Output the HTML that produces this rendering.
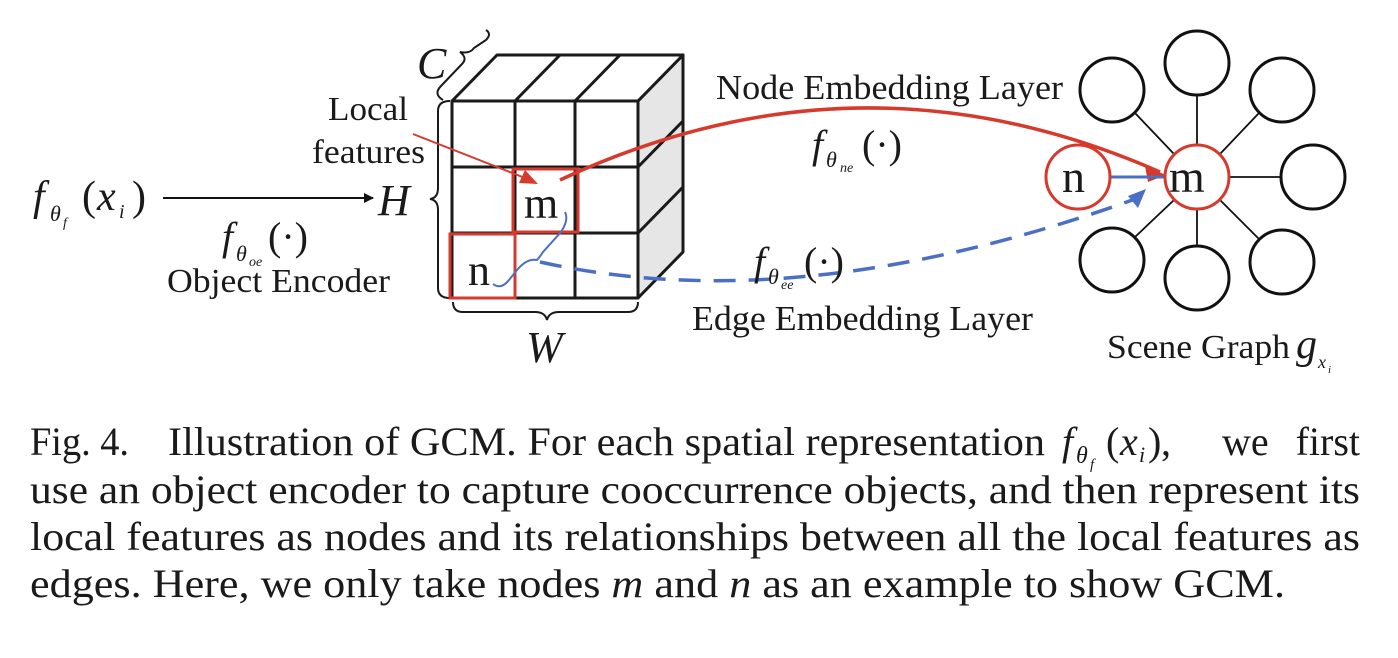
<!DOCTYPE html>
<html><head><meta charset="utf-8"><style>
html,body{margin:0;padding:0;background:#fff;}
svg{display:block;}
text{font-family:"Liberation Serif",serif;fill:#1a1a1a;}
</style></head><body>
<svg width="1398" height="658" viewBox="0 0 1398 658" xmlns="http://www.w3.org/2000/svg">
<defs>
<marker id="ab" markerWidth="10" markerHeight="10" refX="9" refY="5" orient="auto" markerUnits="userSpaceOnUse"><path d="M0,0 L10,5 L0,10 z" fill="#111"/></marker>
</defs>
<g stroke="#1a1a1a" stroke-width="3" fill="none" stroke-linejoin="round">
<path d="M638,101 L683,55 L683,252 L638,298 Z" fill="#e6e6e6"/>
<path d="M452,101 L497,55 L683,55 L638,101 Z" fill="#fff"/>
<rect x="452" y="101" width="186" height="197" fill="#fff"/>
<line x1="515" y1="101" x2="515" y2="298"/>
<line x1="575" y1="101" x2="575" y2="298"/>
<line x1="452" y1="167" x2="638" y2="167"/>
<line x1="452" y1="233" x2="638" y2="233"/>
<line x1="515" y1="101" x2="560" y2="55"/>
<line x1="575" y1="101" x2="620" y2="55"/>
<line x1="638" y1="167" x2="683" y2="121"/>
<line x1="638" y1="233" x2="683" y2="187"/>
</g>
<g stroke="#1a1a1a" stroke-width="2" fill="none">
<path d="M450,101 q-12,0 -12,10 L438,188 q0,10 -8,11 q8,1 8,11 L438,288 q0,10 12,10"/>
<path d="M453,302 q0,10 10,10 L535,312 q10,0 12,8 q2,-8 12,-8 L628,312 q10,0 10,-10"/>
<path d="M443,100 q-10,-6 -2,-14 L462,64 q6,-6 -2,-12 q10,2 14,-4 L486,40 q6,-6 0,-10"/>
</g>
<rect x="513" y="169" width="65" height="63" fill="none" stroke="#d63a2c" stroke-width="3"/>
<rect x="450" y="234" width="65" height="64" fill="none" stroke="#d63a2c" stroke-width="3"/>
<text x="524" y="218" font-size="44">m</text>
<text x="468" y="285" font-size="44">n</text>
<path d="M565,212 q4,8 -4,20 l-18,20 q-4,6 -6,8 q-10,-2 -20,10 l-8,10 q-8,10 -16,4" fill="none" stroke="#4a6fc4" stroke-width="2"/>
<path d="M540,262 Q800,320 1138,198" fill="none" stroke="#4a6fc4" stroke-width="3.5" stroke-dasharray="22,13"/>
<path d="M1146,189 L1128,196 L1138,208 Z" fill="#4a6fc4"/>
<path d="M560,180 Q860,40 1160,172" fill="none" stroke="#d63a2c" stroke-width="3.5"/>
<path d="M1166,175 L1145,166 L1148,182 Z" fill="#d63a2c"/>
<line x1="413" y1="134" x2="525" y2="178" stroke="#d63a2c" stroke-width="2"/>
<path d="M538,184 L519,183 L525,170 Z" fill="#d63a2c"/>
<line x1="163" y1="198" x2="373" y2="198" stroke="#111" stroke-width="2" marker-end="url(#ab)"/>
<g stroke="#111" stroke-width="1.8">
<line x1="1197" y1="145" x2="1197" y2="95"/>
<line x1="1174" y1="154" x2="1135" y2="113"/>
<line x1="1220" y1="154" x2="1259" y2="113"/>
<line x1="1229" y1="177" x2="1281" y2="177"/>
<line x1="1220" y1="200" x2="1259" y2="239"/>
<line x1="1197" y1="209" x2="1197" y2="246"/>
<line x1="1174" y1="200" x2="1135" y2="237"/>
</g>
<line x1="1110" y1="177" x2="1165" y2="177" stroke="#4a6fc4" stroke-width="3"/>
<g fill="none" stroke="#111" stroke-width="3">
<circle cx="1197" cy="63" r="32"/><circle cx="1112" cy="90" r="32"/><circle cx="1282" cy="90" r="32"/>
<circle cx="1313" cy="177" r="32"/><circle cx="1282" cy="262" r="32"/><circle cx="1197" cy="278" r="32"/><circle cx="1112" cy="260" r="32"/>
</g>
<circle cx="1197" cy="177" r="32" fill="#fff" stroke="#d63a2c" stroke-width="3"/>
<circle cx="1078" cy="177" r="32" fill="#fff" stroke="#d63a2c" stroke-width="3"/>
<text x="1169" y="192" font-size="46">m</text>
<text x="1062" y="192" font-size="46">n</text>
<text x="33" y="210" font-size="42" font-style="italic">f</text>
<text x="50" y="221" font-size="22" font-style="italic">θ</text><text x="63" y="227" font-size="14" font-style="italic">f</text>
<text x="82" y="210" font-size="42">(</text>
<text x="97" y="210" font-size="42" font-style="italic">x</text>
<text x="119" y="218" font-size="20" font-style="italic">i</text>
<text x="132" y="210" font-size="42">)</text>
<text x="378" y="215" font-size="44" font-style="italic">H</text>
<text x="417" y="78" font-size="44" font-style="italic">C</text>
<text x="526" y="362" font-size="44" font-style="italic">W</text>
<text x="222" y="250" font-size="40" font-style="italic">f</text>
<text x="236" y="261" font-size="22" font-style="italic">θ</text><text x="249" y="266" font-size="14" font-style="italic">oe</text>
<text x="268" y="250" font-size="40">(·)</text>
<text x="167" y="292" font-size="34" textLength="223" lengthAdjust="spacingAndGlyphs">Object Encoder</text>
<text x="328" y="120" font-size="34" textLength="80" lengthAdjust="spacingAndGlyphs">Local</text>
<text x="312" y="163" font-size="34" textLength="113" lengthAdjust="spacingAndGlyphs">features</text>
<text x="716" y="99" font-size="35" textLength="347" lengthAdjust="spacingAndGlyphs">Node Embedding Layer</text>
<text x="812" y="158" font-size="40" font-style="italic">f</text>
<text x="826" y="167" font-size="22" font-style="italic">θ</text><text x="840" y="172" font-size="14" font-style="italic">ne</text>
<text x="862" y="158" font-size="40">(·)</text>
<text x="754" y="275" font-size="40" font-style="italic">f</text>
<text x="768" y="284" font-size="22" font-style="italic">θ</text><text x="781" y="289" font-size="14" font-style="italic">ee</text>
<text x="804" y="275" font-size="40">(·)</text>
<text x="692" y="330" font-size="35" textLength="341" lengthAdjust="spacingAndGlyphs">Edge Embedding Layer</text>
<text x="1107" y="358" font-size="34" textLength="183" lengthAdjust="spacingAndGlyphs">Scene Graph</text>
<text x="1296" y="358" font-size="42" font-style="italic">g</text>
<text x="1318" y="368" font-size="18" font-style="italic">x</text><text x="1328" y="373" font-size="11" font-style="italic">i</text>
<text x="30" y="455" font-size="40" textLength="99" lengthAdjust="spacingAndGlyphs">Fig. 4.</text>
<text x="168" y="455" font-size="40" textLength="877" lengthAdjust="spacingAndGlyphs">Illustration of GCM. For each spatial representation</text>
<text x="1062" y="455" font-size="40" font-style="italic">f</text>
<text x="1076" y="463" font-size="24" font-style="italic">θ</text><text x="1090" y="469" font-size="15" font-style="italic">f</text>
<text x="1106" y="455" font-size="40">(</text>
<text x="1120" y="455" font-size="40" font-style="italic">x</text>
<text x="1139" y="462" font-size="22" font-style="italic">i</text>
<text x="1148" y="455" font-size="40">)</text>
<text x="1161" y="455" font-size="40">,</text>
<text x="1222" y="455" font-size="40">we</text>
<text x="1360" y="455" font-size="40" text-anchor="end">first</text>
<text x="30" y="503" font-size="40" textLength="1330" lengthAdjust="spacingAndGlyphs">use an object encoder to capture cooccurrence objects, and then represent its</text>
<text x="30" y="550" font-size="40" textLength="1330" lengthAdjust="spacingAndGlyphs">local features as nodes and its relationships between all the local features as</text>
<text x="30" y="597" font-size="40" textLength="1255" lengthAdjust="spacingAndGlyphs">edges. Here, we only take nodes <tspan font-style="italic">m</tspan> and <tspan font-style="italic">n</tspan> as an example to show GCM.</text>
</svg>
</body></html>
